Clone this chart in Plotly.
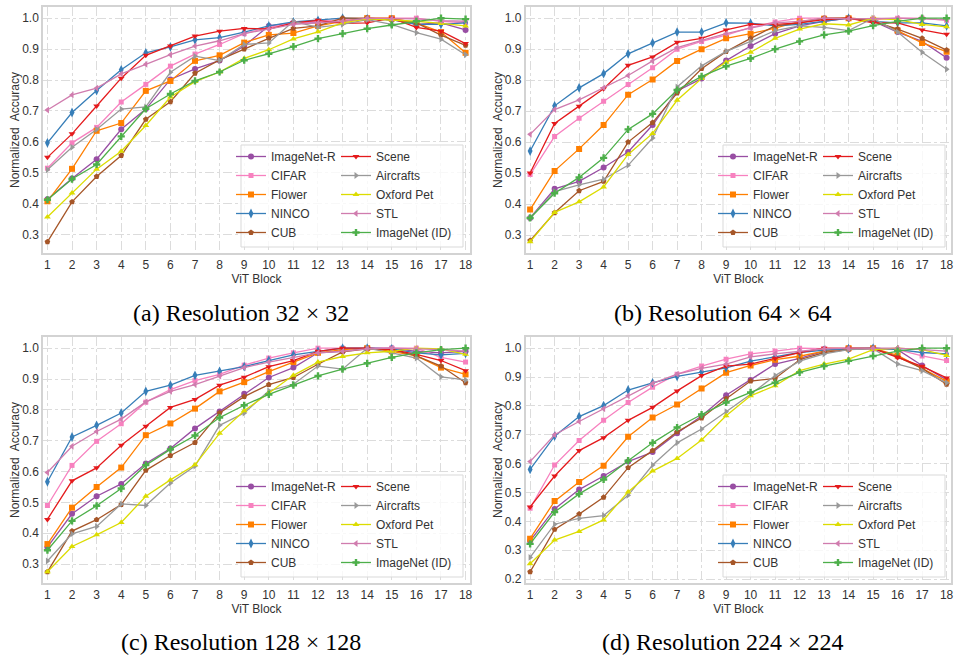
import plotly.graph_objects as go

blocks = list(range(1, 19))
series_names = ["ImageNet-R", "CIFAR", "Flower", "NINCO", "CUB",
                "Scene", "Aircrafts", "Oxford Pet", "STL", "ImageNet (ID)"]
captions = ["(a) Resolution 32 × 32", "(b) Resolution 64 × 64",
            "(c) Resolution 128 × 128", "(d) Resolution 224 × 224"]

# ---- Resolution 32 x 32 ----
r32_imagenet_r = [0.415, 0.482, 0.544, 0.641, 0.706, 0.802, 0.836, 0.863, 0.91, 0.975, 0.985, 0.985, 0.99, 1.0, 0.995, 0.98, 0.985, 0.962]
r32_cifar = [0.515, 0.597, 0.647, 0.729, 0.786, 0.845, 0.884, 0.915, 0.95, 0.97, 0.985, 0.99, 0.995, 1.0, 1.0, 1.0, 0.99, 0.985]
r32_flower = [0.408, 0.513, 0.636, 0.661, 0.765, 0.797, 0.862, 0.88, 0.921, 0.946, 0.952, 0.975, 0.99, 1.0, 1.0, 0.985, 0.955, 0.888]
r32_ninco = [0.597, 0.695, 0.766, 0.833, 0.888, 0.907, 0.93, 0.937, 0.955, 0.975, 0.988, 0.993, 1.0, 0.998, 0.995, 0.98, 0.98, 0.985]
r32_cub = [0.277, 0.406, 0.488, 0.556, 0.673, 0.73, 0.822, 0.865, 0.9, 0.935, 0.967, 0.975, 1.0, 1.0, 0.995, 0.985, 0.945, 0.912]
r32_scene = [0.55, 0.626, 0.716, 0.806, 0.88, 0.91, 0.942, 0.958, 0.967, 0.965, 0.985, 0.993, 0.983, 0.985, 1.0, 0.97, 0.958, 0.918]
r32_aircrafts = [0.51, 0.583, 0.64, 0.706, 0.713, 0.825, 0.877, 0.863, 0.915, 0.92, 0.99, 0.97, 0.98, 0.995, 0.98, 0.953, 0.932, 0.882]
r32_oxford = [0.357, 0.435, 0.512, 0.57, 0.653, 0.745, 0.795, 0.826, 0.87, 0.898, 0.933, 0.956, 0.985, 0.998, 0.995, 0.99, 0.983, 0.975]
r32_stl = [0.703, 0.752, 0.774, 0.82, 0.851, 0.882, 0.91, 0.927, 0.95, 0.965, 0.98, 0.985, 0.99, 1.0, 0.998, 0.998, 0.992, 0.99]
r32_imagenet = [0.413, 0.48, 0.527, 0.618, 0.707, 0.755, 0.797, 0.826, 0.864, 0.885, 0.908, 0.934, 0.95, 0.966, 0.978, 0.99, 1.0, 0.997]

# ---- Resolution 64 x 64 ----
r64_imagenet_r = [0.355, 0.449, 0.473, 0.518, 0.568, 0.655, 0.765, 0.805, 0.863, 0.91, 0.95, 0.975, 0.99, 1.0, 0.99, 0.955, 0.925, 0.872]
r64_cifar = [0.495, 0.618, 0.677, 0.732, 0.786, 0.84, 0.9, 0.925, 0.945, 0.97, 0.988, 1.0, 1.0, 1.0, 0.995, 1.0, 1.0, 0.993]
r64_flower = [0.382, 0.507, 0.578, 0.655, 0.753, 0.802, 0.862, 0.9, 0.935, 0.95, 0.968, 0.99, 0.998, 1.0, 0.995, 0.96, 0.92, 0.892]
r64_ninco = [0.571, 0.717, 0.775, 0.821, 0.885, 0.92, 0.955, 0.955, 0.985, 0.984, 0.975, 0.98, 0.99, 1.0, 0.99, 0.985, 0.985, 0.975]
r64_cub = [0.282, 0.372, 0.443, 0.473, 0.6, 0.663, 0.758, 0.837, 0.892, 0.935, 0.975, 0.985, 1.0, 1.0, 0.99, 0.965, 0.935, 0.897]
r64_scene = [0.5, 0.66, 0.716, 0.772, 0.848, 0.875, 0.922, 0.935, 0.962, 0.98, 0.98, 0.985, 0.995, 1.0, 0.985, 0.985, 0.962, 0.948]
r64_aircrafts = [0.355, 0.44, 0.462, 0.48, 0.525, 0.613, 0.778, 0.846, 0.893, 0.925, 0.96, 0.975, 0.97, 0.96, 1.0, 0.955, 0.89, 0.835]
r64_oxford = [0.278, 0.373, 0.407, 0.455, 0.56, 0.628, 0.735, 0.805, 0.858, 0.89, 0.935, 0.965, 0.982, 0.978, 1.0, 0.995, 0.98, 0.972]
r64_stl = [0.625, 0.705, 0.736, 0.775, 0.815, 0.862, 0.905, 0.928, 0.95, 0.968, 0.985, 0.99, 1.0, 0.998, 1.0, 1.0, 0.998, 0.995]
r64_imagenet = [0.355, 0.435, 0.486, 0.549, 0.641, 0.691, 0.768, 0.812, 0.845, 0.87, 0.9, 0.925, 0.946, 0.958, 0.976, 0.99, 1.0, 1.0]

# ---- Resolution 128 x 128 ----
r128_imagenet_r = [0.355, 0.463, 0.52, 0.56, 0.626, 0.675, 0.74, 0.795, 0.852, 0.905, 0.937, 0.985, 0.99, 1.0, 1.0, 0.99, 0.985, 0.99]
r128_cifar = [0.49, 0.62, 0.698, 0.755, 0.825, 0.866, 0.895, 0.915, 0.945, 0.968, 0.985, 1.0, 1.0, 1.0, 1.0, 1.0, 0.97, 0.955]
r128_flower = [0.365, 0.483, 0.55, 0.613, 0.718, 0.756, 0.804, 0.86, 0.89, 0.924, 0.955, 0.985, 0.995, 1.0, 0.99, 0.975, 0.937, 0.915]
r128_ninco = [0.567, 0.712, 0.75, 0.79, 0.86, 0.88, 0.912, 0.925, 0.94, 0.96, 0.978, 0.99, 1.0, 1.0, 0.998, 0.985, 0.978, 0.983]
r128_cub = [0.275, 0.407, 0.444, 0.493, 0.604, 0.652, 0.694, 0.79, 0.843, 0.882, 0.905, 0.948, 0.988, 0.998, 0.995, 0.975, 0.942, 0.888]
r128_scene = [0.445, 0.57, 0.612, 0.685, 0.747, 0.808, 0.834, 0.88, 0.906, 0.94, 0.96, 0.99, 1.0, 1.0, 0.995, 0.98, 0.96, 0.927]
r128_aircrafts = [0.31, 0.398, 0.422, 0.495, 0.49, 0.563, 0.618, 0.75, 0.79, 0.862, 0.883, 0.942, 0.932, 1.0, 0.985, 0.968, 0.907, 0.897]
r128_oxford = [0.275, 0.357, 0.395, 0.435, 0.52, 0.573, 0.622, 0.724, 0.797, 0.855, 0.912, 0.955, 0.973, 0.985, 0.99, 1.0, 0.998, 0.98]
r128_stl = [0.597, 0.682, 0.73, 0.77, 0.826, 0.86, 0.882, 0.91, 0.937, 0.955, 0.97, 0.985, 0.99, 0.998, 1.0, 0.998, 0.995, 0.99]
r128_imagenet = [0.345, 0.44, 0.489, 0.545, 0.621, 0.672, 0.717, 0.775, 0.815, 0.85, 0.88, 0.91, 0.932, 0.951, 0.97, 0.985, 0.995, 1.0]

# ---- Resolution 224 x 224 ----
r224_imagenet_r = [0.332, 0.443, 0.51, 0.557, 0.607, 0.64, 0.705, 0.765, 0.837, 0.89, 0.945, 0.965, 0.99, 1.0, 1.0, 0.995, 0.94, 0.89]
r224_cifar = [0.445, 0.595, 0.68, 0.75, 0.812, 0.865, 0.91, 0.938, 0.962, 0.98, 0.99, 1.0, 0.998, 1.0, 1.0, 0.995, 0.973, 0.957]
r224_flower = [0.34, 0.47, 0.536, 0.593, 0.693, 0.76, 0.805, 0.86, 0.915, 0.94, 0.96, 0.972, 0.99, 1.0, 1.0, 0.975, 0.93, 0.885]
r224_ninco = [0.58, 0.695, 0.763, 0.801, 0.855, 0.88, 0.902, 0.918, 0.932, 0.955, 0.97, 0.985, 0.993, 0.998, 1.0, 0.995, 0.985, 0.98]
r224_cub = [0.225, 0.372, 0.425, 0.483, 0.586, 0.645, 0.71, 0.758, 0.825, 0.886, 0.895, 0.96, 0.985, 0.995, 1.0, 0.97, 0.93, 0.875]
r224_scene = [0.45, 0.557, 0.645, 0.69, 0.75, 0.795, 0.852, 0.905, 0.938, 0.945, 0.965, 0.985, 1.0, 1.0, 0.998, 0.968, 0.937, 0.897]
r224_aircrafts = [0.275, 0.39, 0.41, 0.42, 0.49, 0.595, 0.672, 0.72, 0.78, 0.84, 0.905, 0.955, 0.98, 0.995, 0.998, 0.945, 0.922, 0.88]
r224_oxford = [0.253, 0.335, 0.365, 0.405, 0.502, 0.574, 0.618, 0.682, 0.766, 0.835, 0.87, 0.922, 0.945, 0.962, 0.995, 1.0, 0.995, 0.975]
r224_stl = [0.607, 0.7, 0.746, 0.79, 0.835, 0.878, 0.91, 0.93, 0.945, 0.97, 0.98, 0.99, 0.998, 1.0, 1.0, 1.0, 0.995, 0.99]
r224_imagenet = [0.322, 0.432, 0.495, 0.545, 0.61, 0.672, 0.725, 0.77, 0.812, 0.847, 0.88, 0.916, 0.938, 0.956, 0.973, 0.99, 1.0, 1.0]

panels = [
    [r32_imagenet_r, r32_cifar, r32_flower, r32_ninco, r32_cub, r32_scene, r32_aircrafts, r32_oxford, r32_stl, r32_imagenet],
    [r64_imagenet_r, r64_cifar, r64_flower, r64_ninco, r64_cub, r64_scene, r64_aircrafts, r64_oxford, r64_stl, r64_imagenet],
    [r128_imagenet_r, r128_cifar, r128_flower, r128_ninco, r128_cub, r128_scene, r128_aircrafts, r128_oxford, r128_stl, r128_imagenet],
    [r224_imagenet_r, r224_cifar, r224_flower, r224_ninco, r224_cub, r224_scene, r224_aircrafts, r224_oxford, r224_stl, r224_imagenet],
]

colors = ["#984ea3", "#f781bf", "#ff7f00", "#377eb8", "#a65628",
          "#e41a1c", "#999999", "#dcdc00", "#d07cae", "#4daf4a"]
symbols = ["circle", "square", "square", "diamond-tall", "pentagon",
           "triangle-down", "triangle-right", "triangle-up", "triangle-left", "cross"]
msizes = [6, 5, 6, 7, 6, 6, 6, 6, 6, 6]

W, H = 956, 660
# plot areas in pixels: (left, right, top, bottom)
areas = [(43, 470, 7, 253), (525.7, 951, 7, 253),
         (43, 470, 337, 583), (525.7, 951, 337, 583)]
cap_pos = [(241, 313), (723, 313), (241, 642), (723, 642)]
box_left = [241, 723, 241, 723]
box_bottom = [247, 247, 577, 577]

fig = go.Figure()
layout = dict(width=W, height=H, margin=dict(l=0, r=0, t=0, b=0, autoexpand=False),
              paper_bgcolor="white", plot_bgcolor="white",
              font=dict(family="Liberation Sans, Arial, sans-serif", size=12, color="#333333"),
              shapes=[], annotations=[])

for p, data in enumerate(panels):
    ax = "" if p == 0 else str(p + 1)
    l, r, t, b = areas[p]
    lo = min(min(s) for s in data)
    hi = max(max(s) for s in data)
    span = hi - lo
    for i, name in enumerate(series_names):
        k = 2 * p + i // 5
        leg_id = "legend" + ("" if k == 0 else str(k + 1))
        fig.add_trace(go.Scatter(
            x=blocks, y=data[i], name=name, mode="lines+markers",
            line=dict(color=colors[i], width=1.3),
            marker=dict(symbol=symbols[i], size=msizes[i], color=colors[i],
                        line=dict(width=0)),
            xaxis="x" + ax, yaxis="y" + ax, legend=leg_id,
        ))
    axis_common = dict(showline=True, mirror=True, linecolor="#d3d3d3", linewidth=1.5,
                       showgrid=True, gridcolor="#dcdcdc", gridwidth=0.8, griddash="dashdot",
                       zeroline=False, ticks="", automargin=False,
                       tickfont=dict(size=12, color="#333333"))
    layout["xaxis" + ax] = dict(axis_common, domain=[l / W, r / W], anchor="y" + ax,
                                range=[0.82, 18.18], tickmode="linear", tick0=1, dtick=1,
                                title=dict(text="ViT Block", font=dict(size=12), standoff=1))
    layout["yaxis" + ax] = dict(axis_common, domain=[1 - b / H, 1 - t / H], anchor="x" + ax,
                                range=[lo - 0.05 * span, hi + 0.05 * span],
                                tickmode="linear", tick0=0, dtick=0.1, tickformat=".1f",
                                title=dict(text="Normalized\u00a0 Accuracy", font=dict(size=12), standoff=0))
    # two legend columns
    for c in range(2):
        idx = 2 * p + c
        key = "legend" + ("" if idx == 0 else str(idx + 1))
        layout[key] = dict(x=(box_left[p] - 10 + c * 105) / W, y=1 - box_bottom[p] / H,
                           xanchor="left", yanchor="bottom", bgcolor="rgba(0,0,0,0)",
                           borderwidth=0, font=dict(size=12, color="#333333"),
                           itemwidth=30, tracegroupgap=0)
    layout["shapes"].append(dict(type="rect", xref="paper", yref="paper",
                                 x0=box_left[p] / W, x1=(box_left[p] + 222) / W,
                                 y0=1 - box_bottom[p] / H, y1=1 - (box_bottom[p] - 102) / H,
                                 fillcolor="rgba(255,255,255,0.8)",
                                 line=dict(color="#d9d9d9", width=1), layer="above"))
    cx, cy = cap_pos[p]
    layout["annotations"].append(dict(text=captions[p], xref="paper", yref="paper",
                                      x=cx / W, y=1 - cy / H, xanchor="center", yanchor="middle",
                                      showarrow=False,
                                      font=dict(family="Liberation Serif, Times New Roman, serif",
                                                size=24, color="black")))

fig.update_layout(**layout)
fig.write_html("out.html", config={"displayModeBar": False},
               post_script="document.body.style.margin='0';document.body.style.overflow='hidden';")
